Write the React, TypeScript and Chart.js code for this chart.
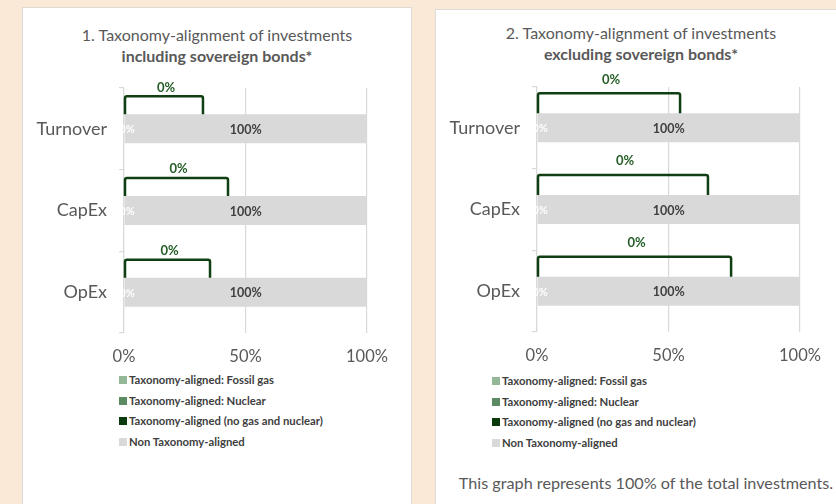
import React, { useEffect, useRef } from "react";
import { Chart, registerables } from "chart.js";

Chart.register(...registerables);

// ---------- data ----------
const categories = ["Turnover", "CapEx", "OpEx"];
const xTickValues = [0, 50, 100];

const fossilGasIncl = [0, 0, 0];
const nuclearIncl = [0, 0, 0];
const alignedIncl = [0, 0, 0];
const nonAlignedIncl = [100, 100, 100];
const calloutEndIncl = [32.5, 42.8, 35.4];

const fossilGasExcl = [0, 0, 0];
const nuclearExcl = [0, 0, 0];
const alignedExcl = [0, 0, 0];
const nonAlignedExcl = [100, 100, 100];
const calloutEndExcl = [54.4, 65, 73.8];

const seriesNames = [
  "Taxonomy-aligned: Fossil gas",
  "Taxonomy-aligned: Nuclear",
  "Taxonomy-aligned (no gas and nuclear)",
  "Non Taxonomy-aligned",
];
const seriesColors = ["#93b797", "#5c8a63", "#0b3a0d", "#d9d9d9"];

const FONT = "Lato, 'Open Sans', sans-serif";

type PanelProps = {
  left: number;
  top: number;
  width: number;
  title1: string;
  title2: string;
  titleTop: number;
  series: number[][];
  callout: number[];
  pad: { top: number; right: number; bottom: number };
  rise: number;
  gap: number;
  legendLeft: number;
  legendTop: number;
  footnote?: string;
};

function Panel(p: PanelProps) {
  const ref = useRef<HTMLCanvasElement | null>(null);

  useEffect(() => {
    if (!ref.current) return;
    const labelPlugin = {
      id: "labels",
      afterDatasetsDraw(chart: any) {
        const ctx = chart.ctx;
        const xs = chart.scales.x;
        ctx.save();
        // white labels of aligned series
        const metaA = chart.getDatasetMeta(2);
        metaA.data.forEach((el: any, i: number) => {
          ctx.font = `bold 11px ${FONT}`;
          ctx.fillStyle = "#ffffff";
          ctx.textAlign = "center";
          ctx.textBaseline = "middle";
          const v = p.series[2][i];
          ctx.fillText(v + "%", xs.getPixelForValue(v / 2) + 3, el.y + 1);
        });
        // non-aligned labels
        const metaN = chart.getDatasetMeta(3);
        metaN.data.forEach((el: any, i: number) => {
          ctx.font = `bold 12.5px ${FONT}`;
          ctx.fillStyle = "#404040";
          ctx.textAlign = "center";
          ctx.textBaseline = "middle";
          const v = p.series[3][i];
          ctx.fillText(v + "%", (el.x + el.base) / 2, el.y + 1);
        });
        // callout brackets
        metaN.data.forEach((el: any, i: number) => {
          const x0 = xs.getPixelForValue(0) + 1;
          const x1 = xs.getPixelForValue(p.callout[i]);
          const yb = el.y - el.height / 2;
          const yt = yb - p.rise;
          ctx.strokeStyle = "#0f3f12";
          ctx.lineWidth = 2.5;
          ctx.lineJoin = "round";
          ctx.beginPath();
          ctx.moveTo(x0, yb);
          ctx.lineTo(x0, yt + 2);
          ctx.quadraticCurveTo(x0, yt, x0 + 2, yt);
          ctx.lineTo(x1 - 2, yt);
          ctx.quadraticCurveTo(x1, yt, x1, yt + 2);
          ctx.lineTo(x1, yb);
          ctx.stroke();
          const v = p.series[2][i] + p.series[0][i] + p.series[1][i];
          ctx.font = `bold 13px ${FONT}`;
          ctx.fillStyle = "#245e26";
          ctx.textAlign = "center";
          ctx.textBaseline = "middle";
          ctx.fillText(v + "%", (x0 + x1) / 2 + 2, yt - p.gap);
        });
        ctx.restore();
      },
    };

    const chart = new Chart(ref.current, {
      type: "bar",
      data: {
        labels: categories,
        datasets: p.series.map((d, i) => ({
          label: seriesNames[i],
          data: d,
          backgroundColor: seriesColors[i],
          borderWidth: 0,
          categoryPercentage: 1,
          barPercentage: 0.355,
        })),
      },
      options: {
        indexAxis: "y",
        animation: false,
        responsive: false,
        maintainAspectRatio: false,
        events: [],
        layout: { padding: { left: 0, top: p.pad.top, right: p.pad.right, bottom: p.pad.bottom } },
        plugins: {
          legend: { display: false },
          tooltip: { enabled: false },
          title: { display: false },
        },
        scales: {
          x: {
            stacked: true,
            min: 0,
            max: 100,
            afterBuildTicks: (scale: any) => {
              scale.ticks = xTickValues.map((v) => ({ value: v }));
            },
            afterFit: (scale: any) => {
              scale.height = 30;
            },
            ticks: {
              callback: (v: any) => v + "%",
              color: "#595959",
              font: { family: FONT, size: 16.5 },
              padding: 14,
              maxRotation: 0,
            },
            grid: { color: "#d9d9d9", drawTicks: false, lineWidth: 1.2 },
            border: { display: false },
          },
          y: {
            stacked: true,
            afterFit: (scale: any) => {
              scale.width = 101;
            },
            ticks: {
              color: "#595959",
              font: { family: FONT, size: 18 },
              padding: 12,
            },
            grid: {
              drawOnChartArea: false,
              drawTicks: true,
              tickLength: 5,
              color: "#d9d9d9",
              lineWidth: 1.2,
            },
            border: { display: true, color: "#d9d9d9", width: 1.2 },
          },
        },
      },
      plugins: [labelPlugin],
    } as any);
    return () => chart.destroy();
  }, []);

  return (
    <div
      style={{
        position: "absolute",
        left: p.left,
        top: p.top,
        width: p.width,
        height: 520,
        background: "#ffffff",
        border: "1px solid #dedbd6",
        boxSizing: "border-box",
        fontFamily: FONT,
      }}
    >
      <div
        style={{
          position: "absolute",
          left: 0,
          right: 0,
          top: p.titleTop,
          textAlign: "center",
          color: "#595959",
          fontSize: 16,
          lineHeight: "21px",
        }}
      >
        <div>{p.title1}</div>
        <div style={{ fontWeight: "bold" }}>{p.title2}</div>
      </div>
      <canvas
        ref={ref}
        width={p.width - 2}
        height={360}
        style={{ position: "absolute", left: 0, top: 0, width: p.width - 2, height: 360 }}
      />
      <div
        style={{
          position: "absolute",
          left: p.legendLeft,
          top: p.legendTop,
          color: "#404040",
          fontSize: 11.3,
          fontWeight: "bold",
          lineHeight: "20.5px",
          whiteSpace: "nowrap",
        }}
      >
        {seriesNames.map((n, i) => (
          <div key={n} style={{ display: "flex", alignItems: "center" }}>
            <span
              style={{
                display: "inline-block",
                width: 8,
                height: 8,
                background: seriesColors[i],
                marginRight: 2,
              }}
            />
            <span>{n}</span>
          </div>
        ))}
      </div>
      {p.footnote ? (
        <div
          style={{
            position: "absolute",
            left: 0,
            width: 420,
            top: 463,
            textAlign: "center",
            color: "#595959",
            fontSize: 16.2,
            lineHeight: "20px",
            whiteSpace: "nowrap",
          }}
        >
          {p.footnote}
        </div>
      ) : null}
    </div>
  );
}

export default function App() {
  return (
    <div
      style={{
        position: "fixed",
        left: 0,
        top: 0,
        width: 836,
        height: 504,
        overflow: "hidden",
        background: "#fbe9d8",
      }}
    >
      <Panel
        left={22}
        top={7}
        width={390}
        title1="1. Taxonomy-alignment of investments"
        title2="including sovereign bonds*"
        titleTop={16}
        series={[fossilGasIncl, nuclearIncl, alignedIncl, nonAlignedIncl]}
        callout={calloutEndIncl}
        pad={{ top: 80, right: 44, bottom: 5 }}
        rise={18}
        gap={9}
        legendLeft={96}
        legendTop={362}
        />
      <Panel
        left={435}
        top={9}
        width={412}
        title1="2. Taxonomy-alignment of investments"
        title2="excluding sovereign bonds*"
        titleTop={12}
        series={[fossilGasExcl, nuclearExcl, alignedExcl, nonAlignedExcl]}
        callout={calloutEndExcl}
        pad={{ top: 77, right: 46, bottom: 8 }}
        rise={20}
        gap={14}
        legendLeft={56}
        legendTop={361}
        footnote="This graph represents 100% of the total investments."
      />
    </div>
  );
}
